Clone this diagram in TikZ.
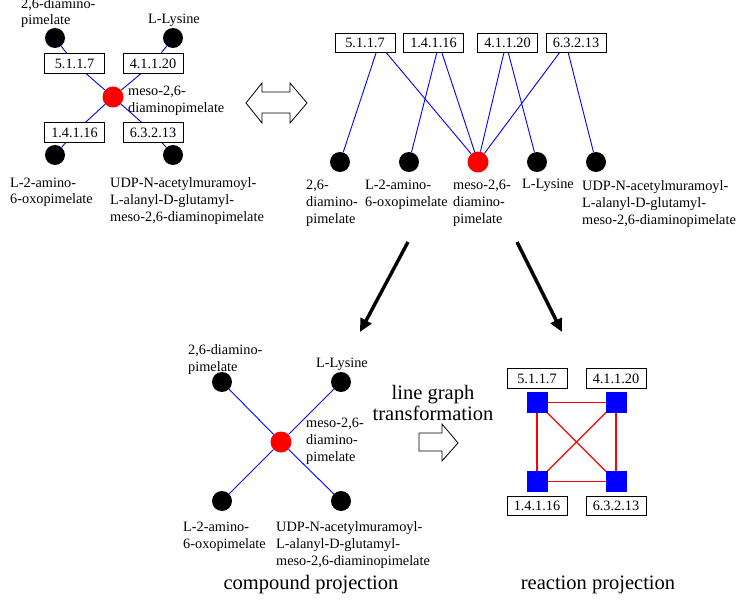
\documentclass[tikz,border=0pt]{standalone}
\usepackage{fontspec}
\setmainfont{Liberation Serif}
\usetikzlibrary{arrows.meta}
\pgfdeclarelayer{bg}
\pgfsetlayers{bg,main}
\begin{document}
\begin{tikzpicture}[x=1pt,y=-1pt,
  cpd/.style={circle,fill=black,inner sep=0,minimum size=20pt},
  cpdred/.style={circle,fill=red,inner sep=0,minimum size=21pt},
  rxn/.style={draw=black,line width=0.9pt,fill=white,inner sep=0,minimum width=60pt,minimum height=19.5pt,font=\fontsize{14.3}{16.8}\selectfont},
  sq/.style={fill=blue,inner sep=0,minimum size=21pt},
  lbl/.style={anchor=base west,align=left,inner sep=0,font=\fontsize{14.3}{16.8}\selectfont},
  big/.style={align=center,inner sep=0,font=\fontsize{20.5}{20.5}\selectfont},
  bedge/.style={draw=blue,line width=0.9pt},
  redge/.style={draw=red,line width=1.1pt},
  bigarrow/.style={draw=black,line width=3.4pt,-{Triangle[length=13pt,width=12pt]}},
  blockarrow/.style={draw=black,line width=0.8pt,fill=white,line join=miter}
]
\useasboundingbox (0,0) rectangle (740,602);

% ---------- top-left: bipartite star ----------
\node[cpd] (a1) at (55,38) {};
\node[cpd] (a2) at (173,38) {};
\node[cpdred] (am) at (113,97) {};
\node[cpd] (a3) at (55,155) {};
\node[cpd] (a4) at (173,155) {};
\node[rxn] (ar1) at (74.5,63.5) {5.1.1.7};
\node[rxn] (ar2) at (153,63.5) {4.1.1.20};
\node[rxn] (ar3) at (74.5,132.5) {1.4.1.16};
\node[rxn] (ar4) at (153,132.5) {6.3.2.13};
\begin{pgfonlayer}{bg}
\draw[bedge] (a1) -- (ar1) -- (am);
\draw[bedge] (a2) -- (ar2) -- (am);
\draw[bedge] (a3) -- (ar3) -- (am);
\draw[bedge] (a4) -- (ar4) -- (am);
\end{pgfonlayer}
\node[lbl] (al1) at (21,25) {2,6-diamino-\\pimelate};
\node[lbl] (al2) at (148,24) {L-Lysine};
\node[lbl] (alm) at (128,112.5) {meso-2,6-\\diaminopimelate};
\node[lbl] (al3) at (10,204) {L-2-amino-\\6-oxopimelate};
\node[lbl] (al4) at (110,221) {UDP-N-acetylmuramoyl-\\L-alanyl-D-glutamyl-\\meso-2,6-diaminopimelate};

% ---------- double block arrow ----------
\draw[blockarrow] (246,103) -- (262,83) -- (262,92) -- (290,92) -- (290,83) -- (307,103)
  -- (290,123) -- (290,113) -- (262,113) -- (262,123) -- cycle;

% ---------- top-right: bipartite graph ----------
\node[rxn] (br1) at (365,43) {5.1.1.7};
\node[rxn] (br2) at (433.5,43) {1.4.1.16};
\node[rxn] (br3) at (507.5,43) {4.1.1.20};
\node[rxn] (br4) at (576,43) {6.3.2.13};
\coordinate (bo1) at (379,44);
\coordinate (bo2) at (439,44);
\coordinate (bo3) at (506,44);
\coordinate (bo4) at (566,44);
\node[cpd] (b1) at (340,162) {};
\node[cpd] (b2) at (409,162) {};
\node[cpdred] (bm) at (478,162) {};
\node[cpd] (b4) at (537,162) {};
\node[cpd] (b5) at (596,162) {};
\begin{pgfonlayer}{bg}
\draw[bedge] (bo1) -- (b1);
\draw[bedge] (bo1) -- (bm);
\draw[bedge] (bo2) -- (b2);
\draw[bedge] (bo2) -- (bm);
\draw[bedge] (bo3) -- (bm);
\draw[bedge] (bo3) -- (b4);
\draw[bedge] (bo4) -- (bm);
\draw[bedge] (bo4) -- (b5);
\end{pgfonlayer}
\node[lbl] (bl1) at (306,223) {2,6-\\diamino-\\pimelate};
\node[lbl] (bl2) at (365,206) {L-2-amino-\\6-oxopimelate};
\node[lbl] (blm) at (453,223) {meso-2,6-\\diamino-\\pimelate};
\node[lbl] (bl4) at (522,189) {L-Lysine};
\node[lbl] (bl5) at (582,224) {UDP-N-acetylmuramoyl-\\L-alanyl-D-glutamyl-\\meso-2,6-diaminopimelate};

% ---------- projection arrows ----------
\coordinate (p1s) at (408,242);
\coordinate (p1e) at (360,332);
\coordinate (p2s) at (517,242);
\coordinate (p2e) at (562,332);
\draw[bigarrow] (p1s) -- (p1e);
\draw[bigarrow] (p2s) -- (p2e);

% ---------- compound projection ----------
\node[cpd] (c1) at (222,382) {};
\node[cpd] (c2) at (341,382) {};
\node[cpdred] (cm) at (281,442) {};
\node[cpd] (c3) at (222,501) {};
\node[cpd] (c4) at (341,501) {};
\begin{pgfonlayer}{bg}
\draw[bedge] (c1) -- (cm);
\draw[bedge] (c2) -- (cm);
\draw[bedge] (c3) -- (cm);
\draw[bedge] (c4) -- (cm);
\end{pgfonlayer}
\node[lbl] (cl1) at (188,371) {2,6-diamino-\\pimelate};
\node[lbl] (cl2) at (316,367) {L-Lysine};
\node[lbl] (clm) at (306,461) {meso-2,6-\\diamino-\\pimelate};
\node[lbl] (cl3) at (183,548) {L-2-amino-\\6-oxopimelate};
\node[lbl] (cl4) at (276,565) {UDP-N-acetylmuramoyl-\\L-alanyl-D-glutamyl-\\meso-2,6-diaminopimelate};
\node[big] (ctitle) at (311,585) {compound projection};

% ---------- line graph transformation ----------
\node[big] (lgt) at (433,403) {line graph\\transformation};
\draw[blockarrow] (419,433) -- (442,433) -- (442,424) -- (458,443) -- (442,461) -- (442,451) -- (419,451) -- cycle;

% ---------- reaction projection ----------
\node[sq] (s1) at (537,402.5) {};
\node[sq] (s2) at (616,402.5) {};
\node[sq] (s3) at (537,481.5) {};
\node[sq] (s4) at (616,481.5) {};
\begin{pgfonlayer}{bg}
\draw[redge] (s1.center) -- (s2.center);
\draw[redge] (s1.center) -- (s3.center);
\draw[redge] (s2.center) -- (s4.center);
\draw[redge] (s3.center) -- (s4.center);
\draw[redge] (s1.center) -- (s4.center);
\draw[redge] (s2.center) -- (s3.center);
\end{pgfonlayer}
\node[rxn] (dr1) at (537,378.5) {5.1.1.7};
\node[rxn] (dr2) at (616,378.5) {4.1.1.20};
\node[rxn] (dr3) at (537,506) {1.4.1.16};
\node[rxn] (dr4) at (616,506) {6.3.2.13};
\node[big] (rtitle) at (598,585) {reaction projection};
\end{tikzpicture}
\end{document}
